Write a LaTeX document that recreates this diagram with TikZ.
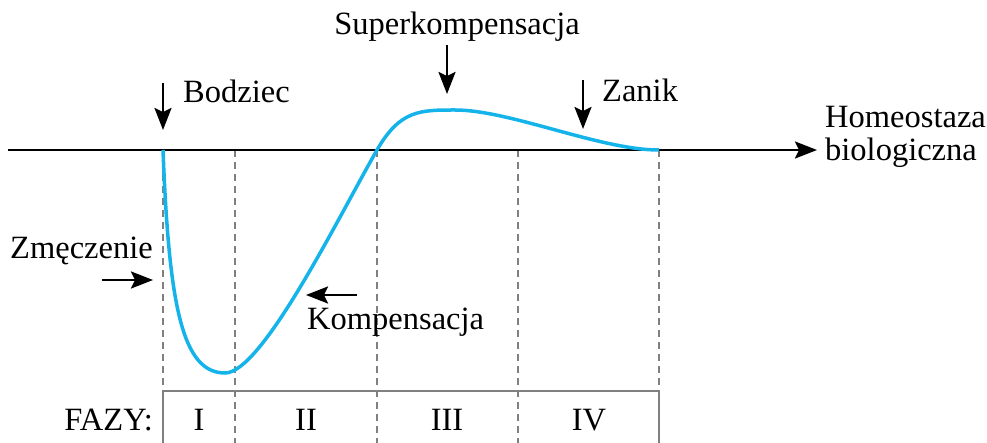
\documentclass[tikz,border=0pt]{standalone}
\usepackage{fontspec}
\setmainfont{Liberation Serif}
\usetikzlibrary{arrows.meta}
\definecolor{curvecol}{RGB}{20,180,235}
\definecolor{dashcol}{RGB}{128,128,128}
\tikzset{
  lbl/.style={font=\fontsize{32.5}{33}\selectfont, inner sep=0pt},
  axisline/.style={line width=2.3pt, -{Stealth[length=22pt,width=17pt,inset=4pt]}},
  pointer/.style={line width=2.3pt, -{Stealth[length=22pt,width=17pt,inset=4pt]}},
  phaseline/.style={dashcol, line width=2.2pt, dash pattern=on 7pt off 5pt},
  boxline/.style={dashcol, line width=2.2pt},
  curve/.style={curvecol, line width=3.5pt}
}
\begin{document}
\begin{tikzpicture}[x=1pt,y=-1pt]
\useasboundingbox (0,0) rectangle (987,443);
% coordinates
\coordinate (a0) at (8,150);
\coordinate (a1) at (817,150);
\foreach \n/\x in {p0/163,p1/235,p2/377,p3/518,p4/659}{
  \coordinate (\n t) at (\x,150);
  \coordinate (\n b) at (\x,443);
  \coordinate (\n m) at (\x,391);
}
% dashed phase lines
\foreach \n in {p1,p2,p3}{\draw[phaseline] (\n t) -- (\n b);}
\draw[phaseline] (p0t) -- (p0m);
\draw[phaseline] (p4t) -- (p4m);
% box
\draw[boxline] (p0b) -- (p0m) -- (p4m) -- (p4b);
% axis
\draw[axisline] (a0) -- (a1);
% curve
\coordinate (cmin) at (225,373);
\coordinate (cpeak) at (455,110);
\draw[curve] (p0t) .. controls (169,305) and (182,373) .. (cmin)
  .. controls (262,373) and (338,218) .. (p2t)
  .. controls (400,110) and (420,110) .. (cpeak)
  .. controls (510,110) and (600,150) .. (p4t);
% labels
\node[lbl, anchor=base west] (bod) at (183,103) {Bodziec};
\coordinate (bodS) at (163,83);
\coordinate (bodE) at (163,130);
\draw[pointer] (bodS) -- (bodE);

\node[lbl, anchor=base] (sup) at (457,35) {Superkompensacja};
\coordinate (supS) at (447,45);
\coordinate (supE) at (447,94);
\draw[pointer] (supS) -- (supE);

\node[lbl, anchor=base west] (zan) at (602,102) {Zanik};
\coordinate (zanS) at (583,80);
\coordinate (zanE) at (583,129);
\draw[pointer] (zanS) -- (zanE);

\node[lbl, anchor=base west] (hom) at (825,128) {Homeostaza};
\node[lbl, anchor=base west] (bio) at (825,161) {biologiczna};

\node[lbl, anchor=base west] (zme) at (10,259) {Zmęczenie};
\coordinate (zmeS) at (102,280);
\coordinate (zmeE) at (153,280);
\draw[pointer] (zmeS) -- (zmeE);

\node[lbl, anchor=base west] (kom) at (307,330) {Kompensacja};
\coordinate (komS) at (357,295);
\coordinate (komE) at (306,295);
\draw[pointer] (komS) -- (komE);

\node[lbl, anchor=base east] (faz) at (153,430) {FAZY:};
\node[lbl, anchor=base] (f1) at (199,430) {I};
\node[lbl, anchor=base] (f2) at (306,430) {II};
\node[lbl, anchor=base] (f3) at (447,430) {III};
\node[lbl, anchor=base] (f4) at (589,430) {IV};
\end{tikzpicture}
\end{document}
